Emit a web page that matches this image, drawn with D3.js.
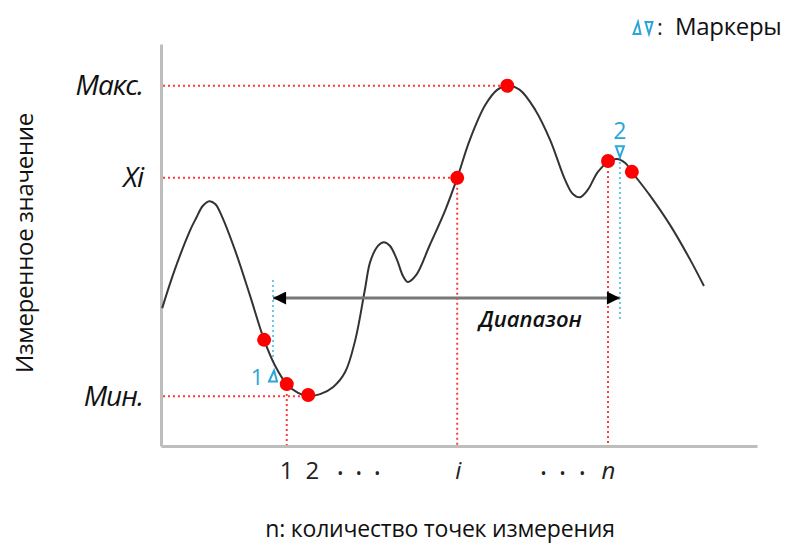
<!DOCTYPE html>
<html>
<head>
<meta charset="utf-8">
<script src="https://cdn.jsdelivr.net/npm/d3@7"></script>
<style>
  html, body { margin: 0; padding: 0; background: #fff; }
  svg { display: block; font-family: "Open Sans", "Noto Sans", sans-serif; }
</style>
</head>
<body>
<svg id="chart" width="787" height="546"></svg>
<script>
// ---- data (abstract units: index 0..100, value 0..100) ----
const curveX = [0.2, 2.3, 4.9, 5.9, 7.0, 8.1, 9.1, 10.2, 12.4, 14.9, 17.3, 19.1, 21.1, 23.0, 24.7, 26.7, 28.9, 30.9, 32.6, 34.2, 35.1, 36.4, 37.4, 38.4, 39.6, 40.6, 41.4, 42.8, 45.1, 47.7, 49.7, 51.8, 54.4, 56.4, 58.1, 60.2, 62.8, 65.3, 67.8, 69.1, 70.3, 71.6, 73.3, 75.0, 76.5, 77.9, 79.0, 82.0, 85.4, 88.8, 91.1];
const curveY = [34.3, 43.8, 53.7, 56.7, 59.7, 60.9, 60.2, 57.2, 48.8, 37.6, 26.4, 20.1, 15.4, 13.2, 12.4, 12.9, 14.7, 18.4, 26.4, 38.8, 45.8, 49.8, 50.7, 49.8, 46.3, 42.3, 40.8, 42.5, 50.0, 58.7, 66.7, 76.1, 84.8, 88.6, 89.6, 88.6, 83.6, 76.1, 66.2, 62.7, 61.9, 63.7, 68.2, 70.6, 71.4, 70.4, 68.2, 62.4, 55.0, 46.3, 39.8];

const pointX = [17.3, 21.1, 24.7, 49.7, 58.1, 75.0, 79.0];
const pointY = [26.4, 15.4, 12.7, 66.7, 89.6, 70.9, 68.2];

const levelNames = ["Мин.", "Xi", "Макс."];
const levelValues = [12.4, 66.7, 89.6];
const levelEndX = [24.7, 49.7, 58.1];

const dropIndex = [1, 3, 5];   // points with vertical drop lines

const xTickValues = [21.0, 25.3, 30.0, 33.1, 36.2, 49.8, 64.1, 67.3, 70.6, 75.0];
const xTickLabels = ["1", "2", "•", "•", "•", "i", "•", "•", "•", "n"];

const markerX = [18.8, 77.0];
const markerLabels = ["1", "2"];
const markerLineTop = [41.3, 71.9];
const markerLineBottom = [20.1, 31.3];
const markerTriY = [17.4, 73.2];

const rangeStart = 18.8, rangeEnd = 77.0, rangeLevel = 36.8;
const rangeLabel = "Диапазон";
const yTitle = "Измеренное значение";
const xTitle = "n: количество точек измерения";
const legendLabel = "Маркеры";

// ---- drawing ----
const svg = d3.select("#chart");
const x = d3.scaleLinear().domain([0, 100]).range([161, 757]);
const y = d3.scaleLinear().domain([0, 100]).range([446, 44]);

const RED = "#ff3b3b", BLUE = "#2aa6d8", BLUE_LT = "#6cc6e6";

// horizontal level lines
svg.append("g").selectAll("line").data(levelValues).join("line")
  .attr("x1", x(0) + 2).attr("x2", (d, i) => x(levelEndX[i]))
  .attr("y1", d => y(d)).attr("y2", d => y(d))
  .attr("stroke", RED).attr("stroke-width", 2).attr("stroke-dasharray", "2,3");

// vertical drop lines
svg.append("g").selectAll("line").data(dropIndex).join("line")
  .attr("x1", i => x(pointX[i])).attr("x2", i => x(pointX[i]))
  .attr("y1", i => y(pointY[i])).attr("y2", y(0))
  .attr("stroke", RED).attr("stroke-width", 2).attr("stroke-dasharray", "2,3");

// marker lines
svg.append("g").selectAll("line").data(markerX).join("line")
  .attr("x1", d => x(d)).attr("x2", d => x(d))
  .attr("y1", (d, i) => y(markerLineTop[i])).attr("y2", (d, i) => y(markerLineBottom[i]))
  .attr("stroke", BLUE_LT).attr("stroke-width", 2).attr("stroke-dasharray", "2,3");

// axes
const xAxis = d3.axisBottom(x).tickValues(xTickValues).tickFormat((d, i) => xTickLabels[i])
  .tickSize(0).tickPadding(16);
const gx = svg.append("g").attr("transform", `translate(0,${y(0)})`).call(xAxis);
gx.select(".domain").attr("stroke", "#bdbdbd").attr("stroke-width", 3);
gx.selectAll(".tick text")
  .attr("font-size", (d, i) => xTickLabels[i] === "•" ? 16 : 24)
  .attr("dy", (d, i) => xTickLabels[i] === "•" ? "1.05em" : "0.71em")
  .attr("font-style", (d, i) => (xTickLabels[i] === "i" || xTickLabels[i] === "n") ? "italic" : "normal")
  .attr("fill", "#222").attr("font-family", "Open Sans, sans-serif");

const yAxis = d3.axisLeft(y).tickValues(levelValues).tickFormat((d, i) => levelNames[i])
  .tickSize(0).tickPadding(18);
const gy = svg.append("g").attr("transform", `translate(${x(0)},0)`).call(yAxis);
gy.select(".domain").attr("stroke", "#bdbdbd").attr("stroke-width", 3);
gy.selectAll(".tick text")
  .attr("font-size", 28).attr("font-style", "italic").attr("letter-spacing", -1)
  .attr("fill", "#111").attr("font-family", "Open Sans, sans-serif");

// curve
const line = d3.line().x(d => x(d[0])).y(d => y(d[1])).curve(d3.curveCatmullRom.alpha(0.5));
svg.append("path").datum(curveX.map((v, i) => [v, curveY[i]]))
  .attr("d", line).attr("fill", "none").attr("stroke", "#333").attr("stroke-width", 2);

// range arrow
svg.append("defs").append("marker").attr("id", "ah").attr("viewBox", "0 0 10 10")
  .attr("refX", 10).attr("refY", 5).attr("markerWidth", 17).attr("markerHeight", 13)
  .attr("markerUnits", "userSpaceOnUse").attr("orient", "auto-start-reverse")
  .append("path").attr("d", "M0,0L10,5L0,10Z").attr("fill", "#000");
svg.append("line")
  .attr("x1", x(rangeStart)).attr("x2", x(rangeEnd))
  .attr("y1", y(rangeLevel)).attr("y2", y(rangeLevel))
  .attr("stroke", "#777").attr("stroke-width", 3)
  .attr("marker-start", "url(#ah)").attr("marker-end", "url(#ah)");
svg.append("text").attr("x", x((rangeStart + rangeEnd) / 2) + 84).attr("y", y(rangeLevel) + 29)
  .attr("text-anchor", "middle").attr("font-size", 22).attr("font-style", "italic")
  .attr("font-weight", 600).attr("fill", "#111").text(rangeLabel);

// points
svg.append("g").selectAll("circle").data(pointX).join("circle")
  .attr("cx", d => x(d)).attr("cy", (d, i) => y(pointY[i])).attr("r", 7)
  .attr("fill", "#ff0000");

// marker triangles + labels
const tri = (cx, cy, up, w, h) => up
  ? `M${cx - w / 2},${cy + h / 2}L${cx + w / 2},${cy + h / 2}L${cx + 1},${cy - h / 2}Z`
  : `M${cx - w / 2},${cy - h / 2}L${cx + w / 2},${cy - h / 2}L${cx},${cy + h / 2}Z`;
svg.append("path").attr("d", tri(x(markerX[0]), y(markerTriY[0]), true, 8, 11))
  .attr("fill", "none").attr("stroke", BLUE).attr("stroke-width", 2);
svg.append("path").attr("d", tri(x(markerX[1]), y(markerTriY[1]), false, 8, 11))
  .attr("fill", "none").attr("stroke", BLUE).attr("stroke-width", 2);
svg.append("text").attr("x", x(markerX[0]) - 16).attr("y", y(markerTriY[0]) + 9)
  .attr("text-anchor", "middle").attr("font-size", 22).attr("fill", BLUE).text(markerLabels[0]);
svg.append("text").attr("x", x(markerX[1])).attr("y", y(markerTriY[1]) - 13)
  .attr("text-anchor", "middle").attr("font-size", 23).attr("fill", BLUE).text(markerLabels[1]);

// legend
const lg = svg.append("g");
lg.append("path").attr("d", tri(637, 28, true, 7, 12)).attr("fill", "none").attr("stroke", BLUE).attr("stroke-width", 2);
lg.append("path").attr("d", tri(649, 28, false, 7, 12)).attr("fill", "none").attr("stroke", BLUE).attr("stroke-width", 2);
lg.append("text").attr("x", 657).attr("y", 35).attr("font-size", 22).attr("fill", "#222").text(":");
lg.append("text").attr("x", 675).attr("y", 35).attr("font-size", 24).attr("font-weight", 500)
  .attr("letter-spacing", -0.3).attr("fill", "#111").text(legendLabel);

// axis titles
svg.append("text").attr("transform", `translate(33,${243}) rotate(-90)`)
  .attr("text-anchor", "middle").attr("font-size", 24).attr("letter-spacing", -0.3)
  .attr("fill", "#111").text(yTitle);
svg.append("text").attr("x", 440).attr("y", 537)
  .attr("text-anchor", "middle").attr("font-size", 23).attr("font-weight", 500)
  .attr("letter-spacing", -0.2).attr("fill", "#111").text(xTitle);
</script>
</body>
</html>
